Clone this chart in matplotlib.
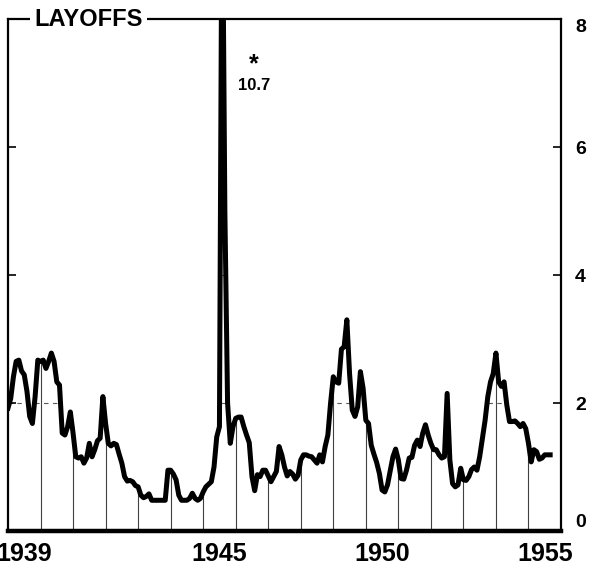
import matplotlib
matplotlib.use("Agg")
import matplotlib.pyplot as plt
import numpy as np

# monthly layoff rate, Jan 1939 .. Sep 1955
layoffs = [
    1.92, 2.07, 2.41, 2.65, 2.67, 2.50, 2.44, 2.18, 1.79, 1.68, 2.10, 2.67,  # 1939
    2.65, 2.67, 2.54, 2.65, 2.78, 2.65, 2.33, 2.28, 1.53, 1.50, 1.63, 1.86,  # 1940
    1.53, 1.16, 1.14, 1.16, 1.06, 1.14, 1.37, 1.16, 1.27, 1.41, 1.45, 2.10,  # 1941
    1.68, 1.37, 1.33, 1.37, 1.35, 1.20, 1.06, 0.85, 0.78, 0.79, 0.77, 0.71,  # 1942
    0.69, 0.56, 0.52, 0.54, 0.58, 0.48, 0.48, 0.48, 0.48, 0.48, 0.48, 0.95,  # 1943
    0.95, 0.89, 0.80, 0.56, 0.48, 0.48, 0.48, 0.51, 0.59, 0.51, 0.48, 0.51,  # 1944
    0.61, 0.69, 0.73, 0.77, 1.00, 1.47, 1.63, 10.7, 5.00, 2.00, 1.37, 1.63,  # 1945
    1.76, 1.78, 1.78, 1.63, 1.50, 1.38, 0.85, 0.63, 0.88, 0.85, 0.95, 0.95,  # 1946
    0.86, 0.77, 0.85, 0.93, 1.32, 1.19, 1.00, 0.86, 0.93, 0.89, 0.81, 0.87,  # 1947
    1.11, 1.19, 1.19, 1.17, 1.16, 1.11, 1.06, 1.19, 1.08, 1.32, 1.50, 2.00,  # 1948
    2.41, 2.33, 2.31, 2.84, 2.88, 3.30, 2.46, 1.89, 1.79, 1.94, 2.49, 2.23,  # 1949
    1.73, 1.68, 1.34, 1.20, 1.07, 0.90, 0.64, 0.61, 0.72, 0.94, 1.16, 1.28,  # 1950
    1.11, 0.82, 0.81, 0.95, 1.14, 1.15, 1.34, 1.42, 1.32, 1.53, 1.66, 1.50,  # 1951
    1.37, 1.27, 1.27, 1.19, 1.14, 1.16, 2.15, 1.11, 0.74, 0.69, 0.72, 0.98,  # 1952
    0.80, 0.79, 0.85, 0.96, 1.00, 0.95, 1.16, 1.45, 1.73, 2.10, 2.33, 2.46,  # 1953
    2.78, 2.33, 2.26, 2.33, 1.97, 1.71, 1.71, 1.72, 1.68, 1.63, 1.68, 1.60,  # 1954
    1.37, 1.08, 1.27, 1.24, 1.12, 1.14, 1.19, 1.19, 1.19,                    # 1955
]
start_year = 1939
grid_years = list(range(1940, 1956))
year_labels = ["1939", "1945", "1950", "1955"]
y_ticks = [0, 2, 4, 6, 8]
peak_label = "10.7"

months = np.arange(len(layoffs))
x = start_year + months / 12.0
y = np.array(layoffs)

fonts = ["Liberation Sans", "DejaVu Sans"]

fig = plt.figure(figsize=(6.03, 5.68), dpi=100)
ax = fig.add_axes([8 / 603, 37 / 568, 553 / 603, 512 / 568])
ax.set_xlim(1939, 1956)
ax.set_ylim(0, 8)

# grid only shows underneath the curve
area = ax.fill_between(x, 0, y, color="none", lw=0)
clip = (area.get_paths()[0], ax.transData)
vl = ax.vlines(grid_years, 0, 12, colors="0.25", lw=0.8, zorder=1)
vl.set_clip_path(*clip)
hl = ax.hlines([2, 4, 6], 1939, 1956, colors="0.35", lw=0.8,
               linestyles=(0, (4, 4)), zorder=1)
hl.set_clip_path(*clip)

ax.plot(x, y, color="black", lw=3.6, solid_joinstyle="round", zorder=3)

# spines
for side in ["left", "top", "right"]:
    ax.spines[side].set_linewidth(1.6)
ax.spines["bottom"].set_linewidth(3.2)

ax.set_xticks([int(l) + 0.5 for l in year_labels])
ax.set_xticklabels(year_labels, fontsize=18, fontweight="bold", family=fonts)
ax.tick_params(axis="x", length=0, pad=8)

ax.yaxis.tick_right()
ax.set_yticks(y_ticks)
ax.set_yticklabels([str(v) for v in y_ticks], fontsize=14,
                   fontweight="bold", family=fonts)
ax.tick_params(axis="y", direction="in", length=6, width=1.2, pad=10,
               left=True, right=True, labelleft=False, labelright=True)
labs = ax.get_yticklabels()
labs[0].set_verticalalignment("bottom")
labs[-1].set_verticalalignment("top")

ax.text(0.146, 1.0, "LAYOFFS", transform=ax.transAxes, ha="center",
        va="center", fontsize=17, fontweight="bold", family=fonts,
        bbox=dict(facecolor="white", edgecolor="none", pad=3), zorder=5)

ax.text(1946.57, 7.1, "*", ha="center", va="bottom", fontsize=18,
        fontweight="bold", family=fonts)
ax.text(1946.57, 7.08, peak_label, ha="center", va="top", fontsize=12,
        fontweight="bold", family=fonts)

fig.savefig("out.png", dpi=100)
